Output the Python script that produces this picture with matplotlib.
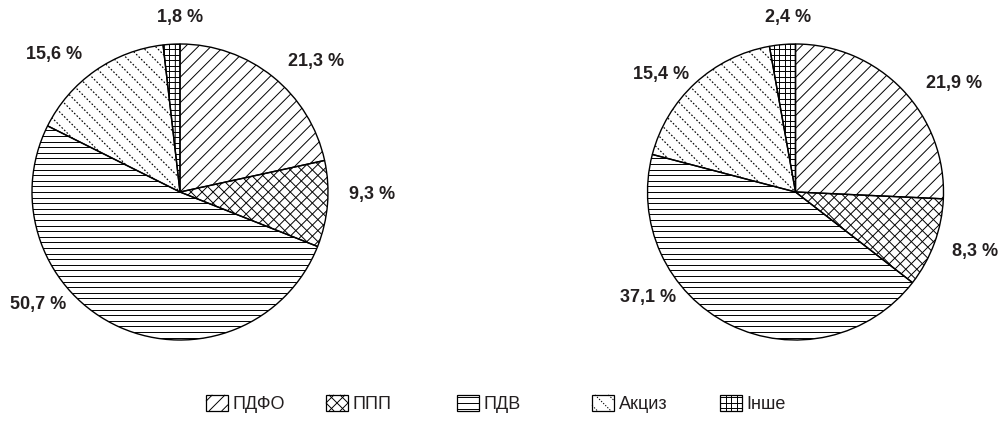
import numpy as np
import matplotlib
matplotlib.use("Agg")
import matplotlib.pyplot as plt
from matplotlib.collections import LineCollection
from matplotlib.patches import Rectangle, Patch
from matplotlib.legend_handler import HandlerBase
from matplotlib import font_manager

# ---------------- data ----------------
categories = ['ПДФО', 'ППП', 'ПДВ', 'Акциз', 'Інше']
values_left = [21.3, 9.3, 50.7, 15.6, 1.8]
values_right = [21.9, 8.3, 37.1, 15.4, 2.4]

# ---------------- styles ----------------
avail = {f.name for f in font_manager.fontManager.ttflist}
FAM = [f for f in ['Liberation Sans Narrow', 'Liberation Sans', 'DejaVu Sans'] if f in avail]
plt.rcParams['font.family'] = FAM

# hatch definitions: (angle deg, spacing px, linestyle)
hatch_styles = [
    [(45, 9.0, '-')],
    [(45, 7.8, '-'), (-45, 7.8, '-')],
    [(0, 5.6, '-')],
    [(-45, 9.5, (0, (1.4, 1.6)))],
    [(0, 5.5, '-'), (90, 5.5, '-')],
]

W, H = 1001, 421
R_PX = 148.0
centers = [(180.0, 192.0), (795.5, 192.0)]
# label positions in units of pie radius (relative to centre)
label_pos = [
    [(0.919, 0.885), (1.297, -0.02), (-0.959, -0.757), (-0.851, 0.932), (0.0, 1.176)],
    [(1.07, 0.73), (1.21, -0.40), (-0.993, -0.716), (-0.909, 0.797), (-0.051, 1.176)],
]


def hatch_segments(angle, spacing, cx, cy, extent):
    a = np.deg2rad(angle)
    d = np.array([np.cos(a), np.sin(a)])
    n = np.array([-np.sin(a), np.cos(a)])
    m = int(extent / spacing) + 2
    segs = []
    for k in range(-m, m + 1):
        base = np.array([cx, cy]) + n * k * spacing
        segs.append([base - d * extent * 1.5, base + d * extent * 1.5])
    return segs


def clip_seg(p0, p1, x0, y0, x1, y1):
    dx, dy = p1[0] - p0[0], p1[1] - p0[1]
    t0, t1 = 0.0, 1.0
    for p, q in ((-dx, p0[0] - x0), (dx, x1 - p0[0]), (-dy, p0[1] - y0), (dy, y1 - p0[1])):
        if abs(p) < 1e-12:
            if q < 0:
                return None
        else:
            t = q / p
            if p < 0:
                t0 = max(t0, t)
            else:
                t1 = min(t1, t)
    if t0 > t1:
        return None
    return [(p0[0] + t0 * dx, p0[1] + t0 * dy), (p0[0] + t1 * dx, p0[1] + t1 * dy)]


class HatchHandler(HandlerBase):
    def __init__(self, style):
        super().__init__()
        self.style = style

    def create_artists(self, legend, orig_handle, xdescent, ydescent, width, height, fontsize, trans):
        x0, y0 = -xdescent, -ydescent
        x1, y1 = x0 + width, y0 + height
        arts = []
        cx, cy = (x0 + x1) / 2, (y0 + y1) / 2
        for ang, sp, ls in self.style:
            segs = []
            for s in hatch_segments(ang, sp * 0.72, cx, cy, max(width, height)):
                c = clip_seg(s[0], s[1], x0, y0, x1, y1)
                if c is not None:
                    segs.append(c)
            lc = LineCollection(segs, colors='black', linewidths=0.7, linestyles=[ls], transform=trans)
            arts.append(lc)
        rect = Rectangle((x0, y0), width, height, facecolor='none', edgecolor='black', lw=0.9, transform=trans)
        arts.append(rect)
        return arts


fig = plt.figure(figsize=(W / 100, H / 100), dpi=100)

for (cxp, cyp), vals, lpos in zip(centers, [values_left, values_right], label_pos):
    ax = fig.add_axes([(cxp - R_PX) / W, (H - cyp - R_PX) / H, 2 * R_PX / W, 2 * R_PX / H])
    wedges, _ = ax.pie(vals, startangle=90, counterclock=False, radius=1,
                       colors=['white'] * len(vals),
                       wedgeprops=dict(edgecolor='black', linewidth=1.0))
    ax.set_xlim(-1.0, 1.0)
    ax.set_ylim(-1.0, 1.0)
    ax.axis('off')
    for w, style in zip(wedges, hatch_styles):
        w.set_facecolor('none')
        w.set_zorder(3)
        for ang, sp, ls in style:
            segs = hatch_segments(ang, sp / R_PX, 0.0, 0.0, 1.2)
            lw = 0.85 if ls != '-' else 0.7
            lc = LineCollection(segs, colors='black', linewidths=lw, linestyles=[ls], zorder=2)
            ax.add_collection(lc)
            lc.set_clip_path(w)
    for v, (lx, ly) in zip(vals, lpos):
        txt = f"{v:.1f}".replace('.', ',') + ' %'
        ax.text(lx, ly, txt, ha='center', va='center', fontsize=13, fontweight='bold',
                color='#231f20', clip_on=False)

# legend entries placed individually
leg_x = [206, 326, 457, 592, 720]
leg_y = (H - 404) / H
for cat, style, xp in zip(categories, hatch_styles, leg_x):
    h = Patch(facecolor='white', edgecolor='black', label=cat)
    lg = fig.legend(handles=[h], labels=[cat], loc='center left',
                    bbox_to_anchor=(xp / W, leg_y), frameon=False,
                    fontsize=13, handlelength=1.22, handleheight=1.0,
                    handletextpad=0.25, borderpad=0, borderaxespad=0,
                    handler_map={Patch: HatchHandler(style)})
    for t in lg.get_texts():
        t.set_color('#231f20')

fig.savefig('out.png', dpi=100)
